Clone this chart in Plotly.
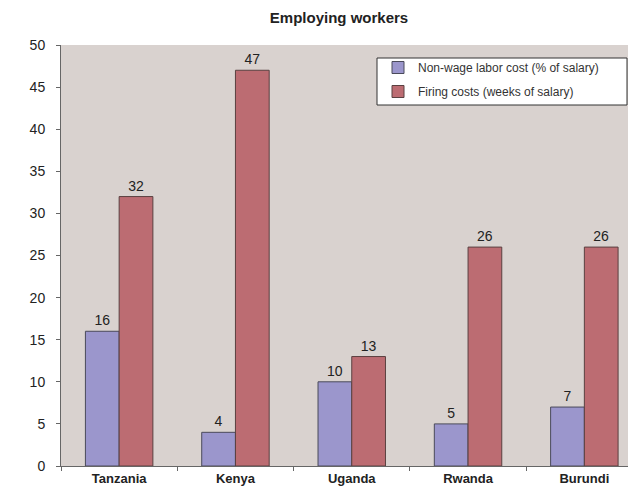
import plotly.graph_objects as go

countries = ["Tanzania", "Kenya", "Uganda", "Rwanda", "Burundi"]
non_wage_cost = [16, 4, 10, 5, 7]
firing_costs = [32, 47, 13, 26, 26]
series_names = ["Non-wage labor cost (% of salary)", "Firing costs (weeks of salary)"]
y_ticks = [0, 5, 10, 15, 20, 25, 30, 35, 40, 45, 50]

W, H = 628, 493
ML, MR, MT, MB = 61, 0, 45, 27
plot_w = W - ML - MR
plot_h = H - MT - MB

font_family = "Liberation Sans, Arial, sans-serif"
label_font = dict(size=14, color="#222222", family=font_family)

fig = go.Figure()
fig.add_trace(go.Bar(
    x=countries, y=non_wage_cost, name=series_names[0], legendgroup="a",
    marker=dict(color="#9b96cc", line=dict(color="#4a4a5a", width=1)),
    text=[str(v) for v in non_wage_cost], textposition="outside",
    textfont=label_font, cliponaxis=False,
))
fig.add_trace(go.Bar(
    x=countries, y=firing_costs, name=series_names[1], legendgroup="b",
    marker=dict(color="#bc6c72", line=dict(color="#5a4040", width=1)),
    text=[str(v) for v in firing_costs], textposition="outside",
    textfont=label_font, cliponaxis=False,
))

# the category axis runs a little past the right edge of the figure
cat_px = 116.3
x_hi = -0.5 + plot_w / cat_px

def px_x(p):
    return (p - ML) / plot_w

def px_y(p):
    return (H - MB - p) / plot_h

fig.update_layout(
    width=W, height=H,
    margin=dict(l=ML, r=MR, t=MT, b=MB, pad=0),
    paper_bgcolor="white",
    plot_bgcolor="#d9d2cf",
    barmode="group",
    bargap=0.42,
    bargroupgap=0,
    font=dict(family=font_family, color="#222222"),
    title=dict(text="<b>Employing workers</b>", x=339 / W, xanchor="center",
               y=1 - 18 / H, yanchor="middle",
               font=dict(size=15, color="#222222", family=font_family)),
    showlegend=True,
    legend=dict(x=px_x(378), xanchor="left", y=px_y(53), yanchor="top",
                bgcolor="rgba(0,0,0,0)", borderwidth=0,
                font=dict(size=12, color="#333333", family=font_family),
                itemwidth=30, tracegroupgap=5),
    xaxis=dict(range=[-0.5, x_hi], showgrid=False, showline=True,
               linecolor="#666666", linewidth=1,
               ticks="outside", tickson="boundaries", ticklen=4, tickcolor="#666666",
               tickfont=dict(size=13, color="#222222", family=font_family),
               tickprefix="<b>", ticksuffix="</b>"),
    yaxis=dict(range=[0, 50], tickvals=y_ticks, showgrid=False, zeroline=False,
               showline=True, linecolor="#666666", linewidth=1,
               ticks="outside", ticklen=4, tickcolor="#666666",
               ticklabelstandoff=8,
               tickfont=dict(size=14, color="#222222")),
)

# white boxed frame behind the legend
fig.add_shape(type="rect", xref="paper", yref="paper",
              x0=px_x(377), x1=px_x(627), y0=px_y(105), y1=px_y(58),
              fillcolor="white", line=dict(color="#333333", width=1), layer="below")

fig.write_html("out.html")
